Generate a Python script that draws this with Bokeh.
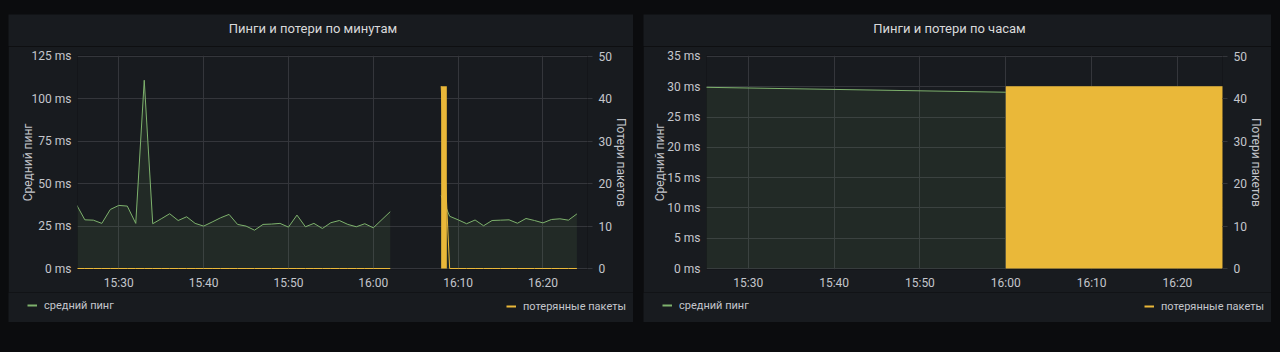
import pandas as pd
from bokeh.plotting import figure
from bokeh.models import (Range1d, LinearAxis, FixedTicker, PrintfTickFormatter,
                          DatetimeTickFormatter, ColumnDataSource, Legend, LegendItem,
                          Spacer, Label)
from bokeh.layouts import row, column
from bokeh.embed import file_html
from bokeh.resources import INLINE

# ---------------- data ----------------
DAY = "2021-06-01"
X_TICKS = ["15:30", "15:40", "15:50", "16:00", "16:10", "16:20"]
X_START = "15:25:08"
X_END = "16:25:15"

MIN_TIMES = ["15:25", "15:26", "15:27", "15:28", "15:29", "15:30", "15:31", "15:32",
             "15:33", "15:34", "15:35", "15:36", "15:37", "15:38", "15:39", "15:40",
             "15:41", "15:42", "15:43", "15:44", "15:45", "15:46", "15:47", "15:48",
             "15:49", "15:50", "15:51", "15:52", "15:53", "15:54", "15:55", "15:56",
             "15:57", "15:58", "15:59", "16:00", "16:02",
             "16:08", "16:09", "16:10", "16:11", "16:12", "16:13", "16:14", "16:15",
             "16:16", "16:17", "16:18", "16:19", "16:20", "16:21", "16:22", "16:23", "16:24"]
MIN_PING = [37.8, 28.7, 28.5, 26.6, 34.8, 37.2, 36.8, 26.6,
            111.0, 26.4, 29.3, 32.3, 28.3, 30.5, 26.6, 25.0,
            27.4, 29.9, 31.9, 26.0, 25.0, 22.6, 26.0, 26.2,
            26.6, 24.4, 31.5, 24.6, 26.6, 23.6, 27.0, 28.3,
            26.0, 24.6, 26.4, 24.0, 33.5,
            43.0, 30.8, 28.7, 26.4, 28.6, 25.2, 28.3, 28.5,
            28.7, 26.7, 29.5, 28.3, 26.9, 28.9, 29.3, 28.5, 32.2]
MIN_LOSS = [0] * 37 + [43] + [0] * 16

HOUR_TIMES = ["15:00", "16:00"]
HOUR_PING = [30.5, 29.1]
HOUR_LOSS_TIMES = ["16:00"]
HOUR_LOSS = [43]

MIN_PING_TICKS = [0, 25, 50, 75, 100, 125]
HOUR_PING_TICKS = [0, 5, 10, 15, 20, 25, 30, 35]
LOSS_TICKS = [0, 10, 20, 30, 40, 50]

TITLE_MIN = "Пинги и потери по минутам"
TITLE_HOUR = "Пинги и потери по часам"
Y_LABEL = "Средний пинг"
Y2_LABEL = "Потери пакетов"
LEG_PING = "средний пинг"
LEG_LOSS = "потерянные пакеты"

# ---------------- style ----------------
PAGE_BG = "#0b0c0e"
PANEL_BG = "#181b1f"
GRID = "#34363b"
TXT = "#c4c6cc"
TITLE_C = "#d8d9da"
GREEN = "#7EB26D"
YELLOW = "#EAB839"
FONT = "Roboto"

FRAME_H = 213      # pixels between bottom and top tick
PAD = 1            # extra pixel above and below so edge lines are not clipped
HEAD_H = 32
MAIN_H = 246
LEG_H = 30


def ts(s):
    return pd.Timestamp(f"{DAY} {s}")


def segments(times, vals, gap):
    segs, cur_t, cur_v = [], [], []
    for t, v in zip(times, vals):
        if cur_t and t - cur_t[-1] > gap:
            segs.append((cur_t, cur_v))
            cur_t, cur_v = [], []
        cur_t.append(t)
        cur_v.append(v)
    if cur_t:
        segs.append((cur_t, cur_v))
    return segs


def padded(top):
    d = top * PAD / FRAME_H
    return Range1d(-d, top + d)


def strip(width, height):
    f = figure(width=width, height=height, x_range=(0, 1), y_range=(0, 1),
               output_backend="svg", toolbar_location=None,
               min_border=0, x_axis_location=None, y_axis_location=None)
    f.background_fill_color = PANEL_BG
    f.border_fill_color = PANEL_BG
    f.outline_line_color = None
    f.grid.visible = False
    f.frame_align = False
    return f


def make_panel(title, width, bl, br, times, ping, ltimes, loss, ping_ticks, ylab_standoff):
    t = [ts(s) for s in times]
    lt = [ts(s) for s in ltimes]
    interval = min(b - a for a, b in zip(t[:-1], t[1:]))
    bar_w = interval / 1.5
    gap = interval * 2.5

    # header with title
    hd = strip(width, HEAD_H)
    hd.add_layout(Label(x=width / 2 - 8, y=HEAD_H - 14, x_units="screen", y_units="screen",
                        text=title, text_align="center", text_baseline="middle",
                        text_color=TITLE_C, text_font=FONT, text_font_size="13px"))

    p = figure(width=width, height=MAIN_H, x_axis_type="datetime",
               x_range=Range1d(ts(X_START), ts(X_END)),
               y_range=padded(ping_ticks[-1]),
               output_backend="svg", toolbar_location=None,
               min_border_left=bl, min_border_right=br,
               min_border_top=10 - PAD, min_border_bottom=23 - PAD)
    p.frame_align = False
    p.extra_y_ranges = {"loss": padded(LOSS_TICKS[-1])}
    p.background_fill_color = PANEL_BG
    p.border_fill_color = PANEL_BG
    p.outline_line_color = None

    # axes
    xa = p.xaxis[0]
    xa.ticker = FixedTicker(ticks=[ts(s).value // 10**6 for s in X_TICKS])
    xa.formatter = DatetimeTickFormatter(minutes="%H:%M", hourmin="%H:%M", hours="%H:%M",
                                         minsec="%H:%M", seconds="%H:%M", days="%H:%M")
    ya = p.yaxis[0]
    ya.ticker = FixedTicker(ticks=ping_ticks)
    ya.formatter = PrintfTickFormatter(format="%d ms")
    ya.axis_label = Y_LABEL
    ra = LinearAxis(y_range_name="loss", ticker=FixedTicker(ticks=LOSS_TICKS),
                    axis_label=Y2_LABEL)
    p.add_layout(ra, "right")
    for ax in (xa, ya, ra):
        ax.axis_line_color = None
        ax.major_tick_line_color = None
        ax.major_tick_out = 0
        ax.major_tick_in = 0
        ax.minor_tick_line_color = None
        ax.minor_tick_out = 0
        ax.major_label_text_color = TXT
        ax.major_label_text_font = FONT
        ax.major_label_text_font_size = "12px"
        ax.axis_label_text_color = TXT
        ax.axis_label_text_font = FONT
        ax.axis_label_text_font_size = "12px"
        ax.axis_label_text_font_style = "normal"
    xa.major_label_standoff = 6
    ya.major_label_standoff = 6
    ya.axis_label_standoff = ylab_standoff
    ra.major_tick_line_color = GRID
    ra.major_tick_out = 5
    ra.major_label_standoff = 6
    ra.axis_label_standoff = -1

    p.xgrid.grid_line_color = GRID
    p.ygrid.grid_line_color = GRID

    # ping series
    for st, sv in segments(t, ping, gap):
        src = ColumnDataSource(dict(x=st, y=sv))
        p.varea(x="x", y1=0, y2="y", source=src, fill_color=GREEN, fill_alpha=0.1)
        p.line(x="x", y="y", source=src, line_color=GREEN, line_width=1)

    # loss bars
    bsrc = ColumnDataSource(dict(left=lt, right=[x + bar_w for x in lt], top=loss))
    p.quad(left="left", right="right", bottom=0, top="top", source=bsrc,
           fill_color=YELLOW, line_color=None, y_range_name="loss")
    # loss line
    for st, sv in segments(lt, loss, gap):
        if len(st) > 1:
            p.line(x=st, y=sv, line_color=YELLOW, line_width=1, y_range_name="loss")

    # legend strip (key renderers sit outside the strip's visible range)
    lg = strip(width, LEG_H)
    d1 = lg.line(x=[-2, -1], y=[-2, -2], line_color=GREEN, line_width=2)
    d2 = lg.line(x=[-2, -1], y=[-2, -2], line_color=YELLOW, line_width=2)
    common = dict(orientation="horizontal", padding=0, spacing=0,
                  border_line_color=None, background_fill_alpha=0,
                  label_text_color=TXT, label_text_font=FONT, label_text_font_size="11px",
                  glyph_width=10, glyph_height=14, label_height=14, label_standoff=7)
    lg.add_layout(Legend(items=[LegendItem(label=LEG_PING, renderers=[d1])],
                         location=(19, 10), margin=0, **common))
    lg.add_layout(Legend(items=[LegendItem(label=LEG_LOSS, renderers=[d2])],
                         location="top_right", margin=7, **common))
    return column(hd, p, lg)


p1 = make_panel(TITLE_MIN, 625, 69, 46, MIN_TIMES, MIN_PING, MIN_TIMES, MIN_LOSS,
                MIN_PING_TICKS, -6)
p2 = make_panel(TITLE_HOUR, 628, 63, 49, HOUR_TIMES, HOUR_PING, HOUR_LOSS_TIMES, HOUR_LOSS,
                HOUR_PING_TICKS, -3)

root = column(Spacer(width=1280, height=14),
              row(Spacer(width=8, height=308), p1, Spacer(width=10, height=308), p2,
                  Spacer(width=9, height=308)),
              Spacer(width=1280, height=30),
              styles={"background-color": PAGE_BG})

open("out.html", "w").write(file_html(root, INLINE))
